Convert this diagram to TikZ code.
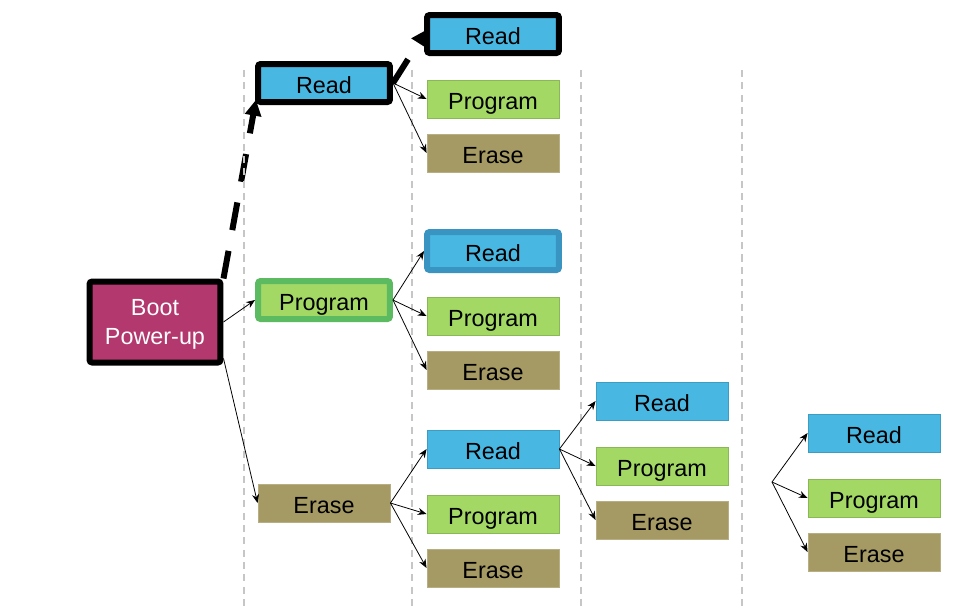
\documentclass[tikz,border=0pt]{standalone}
\usepackage{fontspec}
\setmainfont{Liberation Sans}
\usepackage{xcolor}
\usetikzlibrary{arrows.meta,backgrounds}
\definecolor{readblue}{HTML}{48B8E3}
\definecolor{readedge}{HTML}{3A94C1}
\definecolor{proggreen}{HTML}{A3D865}
\definecolor{progedge}{HTML}{5CBA60}
\definecolor{eraseolive}{HTML}{A59A64}
\definecolor{bootpink}{HTML}{B2386D}

\begin{document}
\begin{tikzpicture}[x=0.02cm, y=-0.02cm,
    box/.style={minimum width=2.64cm, minimum height=0.76cm, inner sep=0pt, text height=12.5pt, text depth=0pt, font=\fontsize{13.3}{16}\selectfont},
    rd/.style={box, fill=readblue, draw=readblue!85!black, line width=0.5pt},
    pg/.style={box, fill=proggreen, draw=proggreen!85!black, line width=0.5pt},
    er/.style={box, fill=eraseolive, draw=eraseolive!80!white, line width=0.5pt},
    picked/.style={line width=0.12cm, rounded corners=1.5pt},
    arr/.style={-{Stealth[length=5pt,width=4pt]}, line width=0.45pt},
    sep/.style={gray!45, line width=0.6pt, dash pattern=on 4pt off 3pt},
    trail/.style={line width=0.12cm, dash pattern=on 16pt off 12pt, -{Triangle[length=9pt,width=9pt]}, shorten >=-3pt}]
    \useasboundingbox (0,0) rectangle (960,610);
    \draw [sep] (244,70) -- (244,610);
    \draw [sep] (412,70) -- (412,610);
    \draw [sep] (581,70) -- (581,610);
    \draw [sep] (742,70) -- (742,610);

    \node [draw=black, fill=bootpink, text=white, align=center, line width=0.12cm, rounded corners=1.5pt, text depth=0pt,
        minimum width=2.62cm, minimum height=1.62cm, font=\fontsize{13.3}{16}\selectfont] (boot) at (155,322) {Boot\\Power-up};

    \node [rd, picked, draw=black] (read1) at (324,83) {Read};
    \node [pg, picked, draw=progedge] (prog1) at (324,300) {Program};
    \node [er] (erase1) at (324,503) {Erase};

    \node [rd, picked, draw=black] (read2a) at (493,34) {Read};
    \node [pg] (prog2a) at (493,99) {Program};
    \node [er] (erase2a) at (493,153) {Erase};
    \node [rd, picked, draw=readedge] (read2b) at (493,251) {Read};
    \node [pg] (prog2b) at (493,316) {Program};
    \node [er] (erase2b) at (493,370) {Erase};
    \node [rd] (read2c) at (493,449) {Read};
    \node [pg] (prog2c) at (493,514) {Program};
    \node [er] (erase2c) at (493,568) {Erase};

    \node [rd] (read3) at (662,401) {Read};
    \node [pg] (prog3) at (662,466) {Program};
    \node [er] (erase3) at (662,520) {Erase};

    \node [rd] (read4) at (874,433) {Read};
    \node [pg] (prog4) at (874,498) {Program};
    \node [er] (erase4) at (874,552) {Erase};
    \coordinate (fan) at (772,482);

    \begin{scope}[on background layer]
    \draw [trail] (boot.north east) -- (read1.south west);
    \draw [trail] (read1.east) -- (read2a.west);
    \end{scope}

    \draw [arr] (boot.east) -- (prog1.west);
    \draw [arr] (boot.-28) -- (erase1.west);
    \draw [arr] (read1.east) -- (prog2a.west);
    \draw [arr] (read1.east) -- (erase2a.west);
    \draw [arr] (prog1.east) -- (read2b.west);
    \draw [arr] (prog1.east) -- (prog2b.west);
    \draw [arr] (prog1.east) -- (erase2b.west);
    \draw [arr] (erase1.east) -- (read2c.west);
    \draw [arr] (erase1.east) -- (prog2c.west);
    \draw [arr] (erase1.east) -- (erase2c.west);
    \draw [arr] (read2c.east) -- (read3.west);
    \draw [arr] (read2c.east) -- (prog3.west);
    \draw [arr] (read2c.east) -- (erase3.west);
    \draw [arr] (fan) -- (read4.west);
    \draw [arr] (fan) -- (prog4.west);
    \draw [arr] (fan) -- (erase4.west);
    \end{tikzpicture}
\end{document}
